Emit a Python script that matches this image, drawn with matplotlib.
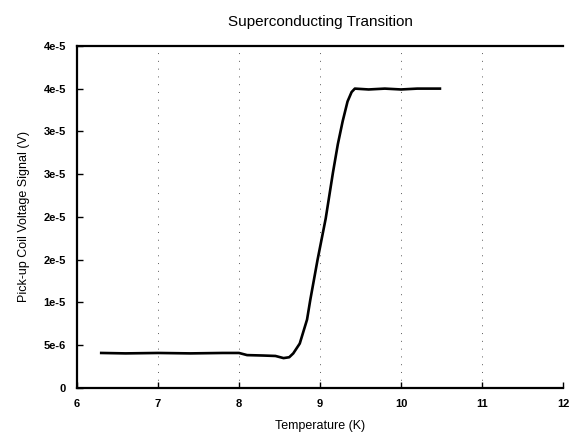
import matplotlib
matplotlib.use("Agg")
import matplotlib.pyplot as plt

plt.rcParams['font.family'] = ['Liberation Sans', 'DejaVu Sans']

# readings from the picture
temps = [6.3, 6.6, 7.0, 7.4, 7.8, 8.0, 8.1, 8.3, 8.45, 8.55, 8.62, 8.67,
         8.75, 8.84, 8.88, 8.97, 9.07, 9.16, 9.22, 9.28, 9.34, 9.39, 9.43,
         9.6, 9.8, 10.0, 10.2, 10.48]
volts = [4.1e-6, 4.05e-6, 4.1e-6, 4.05e-6, 4.1e-6, 4.1e-6, 3.85e-6, 3.8e-6,
         3.75e-6, 3.5e-6, 3.6e-6, 4.05e-6,
         5.2e-6, 8.0e-6, 1.03e-5, 1.5e-5, 1.98e-5, 2.52e-5, 2.85e-5, 3.12e-5,
         3.35e-5, 3.46e-5, 3.5e-5,
         3.49e-5, 3.5e-5, 3.49e-5, 3.5e-5, 3.5e-5]

xticks = [6, 7, 8, 9, 10, 11, 12]
yticks = [0, 5e-6, 1e-5, 1.5e-5, 2e-5, 2.5e-5, 3e-5, 3.5e-5, 4e-5]
ylabels = ["0", "5e-6", "1e-5", "2e-5", "2e-5", "3e-5", "3e-5", "4e-5", "4e-5"]

fig = plt.figure(figsize=(5.74, 4.45), dpi=100)
ax = fig.add_axes([0.134, 0.128, 0.847, 0.769])

ax.plot(temps, volts, color='black', lw=1.9)

ax.set_xlim(6, 12)
ax.set_ylim(0, 4e-5)
ax.set_xticks(xticks)
ax.set_yticks(yticks)
ax.set_yticklabels(ylabels)
ax.tick_params(direction='in', length=4, labelsize=8, width=1)
ax.tick_params(axis='x', pad=8)
ax.tick_params(axis='y', pad=8)
for lab in ax.get_xticklabels() + ax.get_yticklabels():
    lab.set_fontweight('bold')

ax.grid(axis='x', linestyle=(0, (1, 7)), color='0.35', lw=0.7)

for s in ['left', 'bottom', 'top']:
    ax.spines[s].set_linewidth(1.6)
ax.spines['right'].set_visible(False)

ax.set_title("Superconducting Transition", fontsize=11, pad=14)
ax.set_xlabel("Temperature (K)", fontsize=9, labelpad=8)
ax.set_ylabel("Pick-up Coil Voltage Signal (V)", fontsize=9, labelpad=10)

fig.savefig("out.png", dpi=100)
